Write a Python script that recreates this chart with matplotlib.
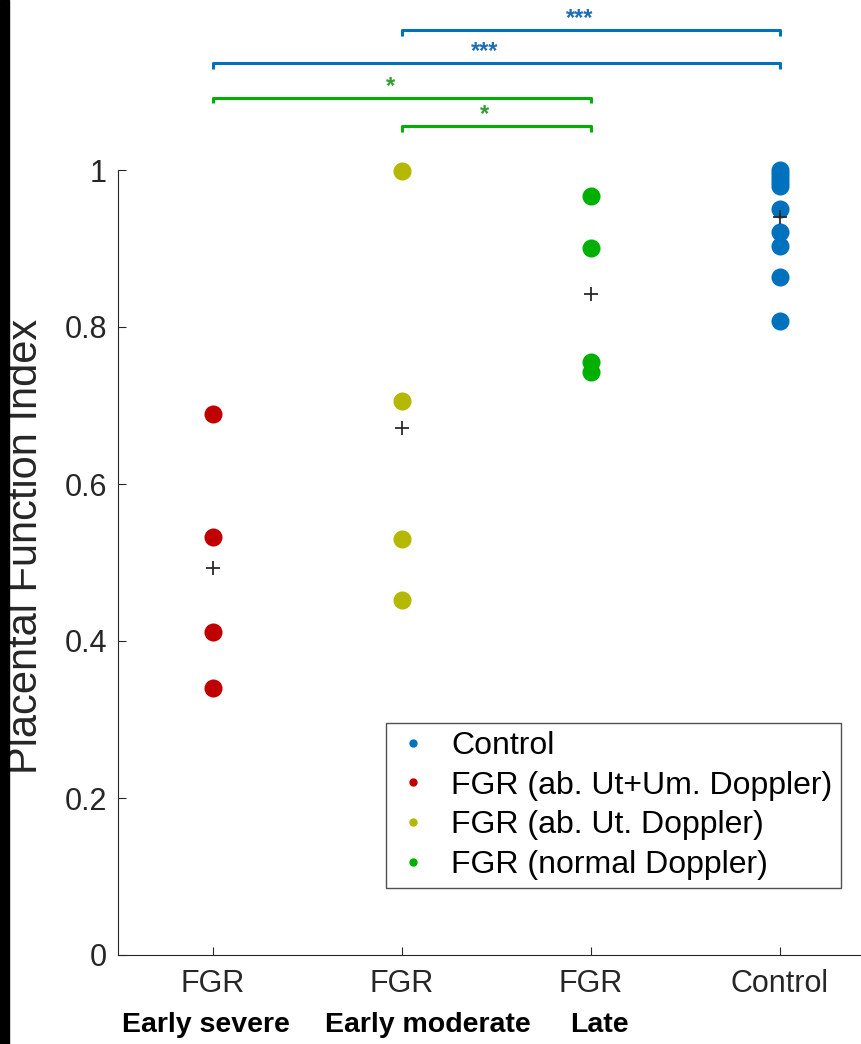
import numpy as np
import matplotlib.pyplot as plt
from matplotlib.lines import Line2D
from matplotlib.patches import Rectangle

plt.rcParams['font.family'] = ['Liberation Sans', 'DejaVu Sans']

# -------------------------
# data
# -------------------------
groups = ["FGR", "FGR", "FGR", "Control"]
subtitles = ["Early severe", "Early moderate", "Late"]
early_severe = [0.689, 0.532, 0.411, 0.340]
early_moderate = [0.999, 0.706, 0.530, 0.452]
late = [0.967, 0.901, 0.755, 0.743]
control = [1.000, 0.995, 0.990, 0.985, 0.980, 0.950, 0.921, 0.903, 0.864, 0.808]

legend_labels = ["Control", "FGR (ab. Ut+Um. Doppler)",
                 "FGR (ab. Ut. Doppler)", "FGR (normal Doppler)"]

# (group a, group b, stars, colour) from top to bottom
brackets = [(2, 4, "***", "blue"), (1, 4, "***", "blue"),
            (1, 3, "*", "green"), (2, 3, "*", "green")]

colors = {"blue": "#0072BD", "red": "#C00000", "yellow": "#B4B800", "green": "#00B000"}
star_colors = {"blue": "#1F6DB3", "green": "#2E9E2E"}

fig = plt.figure(figsize=(8.61, 10.44), dpi=100)
ax = fig.add_axes([118 / 861, 89 / 1044, 756 / 861, 785 / 1044])

series = [early_severe, early_moderate, late, control]
series_colors = [colors["red"], colors["yellow"], colors["green"], colors["blue"]]
for i, (vals, c) in enumerate(zip(series, series_colors)):
    x = np.full(len(vals), i + 1)
    ax.plot(x, vals, 'o', color=c, markersize=13, markeredgewidth=0, clip_on=False, zorder=3)
    ax.plot(i + 1, np.mean(vals), '+', color='#2a2a2a', markersize=10,
            markeredgewidth=1.3, zorder=4)

ax.set_xlim(0.5, 4.5)
ax.set_ylim(0, 1)
ax.set_xticks([1, 2, 3, 4])
ax.set_xticklabels(groups)
ax.set_yticks(np.arange(0, 1.01, 0.2))
ax.set_yticklabels(["0", "0.2", "0.4", "0.6", "0.8", "1"])
ax.tick_params(direction='in', length=6, width=0.8, colors='#262626',
               labelsize=22, labelcolor='#262626')
ax.tick_params(axis='y', pad=8)
ax.tick_params(axis='x', pad=10)
ax.spines['top'].set_visible(False)
ax.spines['right'].set_visible(False)
for s in ['left', 'bottom']:
    ax.spines[s].set_color('#262626')
    ax.spines[s].set_linewidth(0.8)
ax.set_ylabel("Placental Function Index", fontsize=30, color='#262626')
ax.yaxis.set_label_coords(-(118 - 46) / 756, 0.52)

# significance brackets above the axes
levels = [1.178, 1.136, 1.092, 1.056]
for (a, b, stars, cname), y in zip(brackets, levels):
    c = colors[cname]
    ax.plot([a, a, b, b], [y - 0.007, y, y, y - 0.007], color=c, lw=2.2,
            clip_on=False, solid_capstyle='butt')
    ax.annotate(stars, xy=((a + b) / 2 - 0.06, y), xytext=(0, 0),
                textcoords='offset points', ha='center', va='bottom',
                fontsize=17, fontweight='bold', color=star_colors[cname],
                annotation_clip=False)

# legend
handles = [Line2D([], [], marker='o', ls='none', color=c, markersize=5)
           for c in [colors["blue"], colors["red"], colors["yellow"], colors["green"]]]
leg = ax.legend(handles, legend_labels, loc='upper left',
                bbox_to_anchor=((386 - 118) / 756, (955 - 723) / 785),
                borderaxespad=0, fontsize=23, frameon=True, fancybox=False,
                edgecolor='#262626', handlelength=1.2, handletextpad=0.6,
                labelspacing=0.3, borderpad=0.25)
leg.get_frame().set_linewidth(1.0)

# bold group descriptions under the tick labels
sub_x = [122, 325, 570]
for txt, px in zip(subtitles, sub_x):
    fig.text(px / 861, 1 - 1025 / 1044, txt, ha='left', va='center',
             fontsize=20.5, fontweight='bold', color='black')

# black strip at the left edge of the original picture
fig.patches.append(Rectangle((0, 0), 9 / 861, 1, transform=fig.transFigure,
                             color='black', zorder=10))

fig.savefig("out.png", dpi=100)
